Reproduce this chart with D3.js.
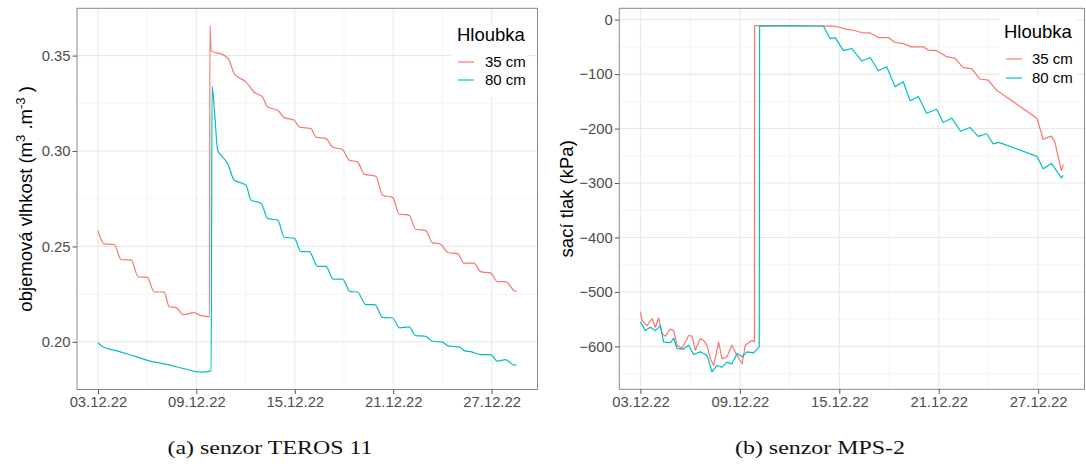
<!DOCTYPE html>
<html>
<head>
<meta charset="utf-8">
<title>Hloubka - TEROS 11 a MPS-2</title>
<script src="https://cdn.jsdelivr.net/npm/d3@7"></script>
<style>
  body { margin: 0; background: #fff; }
  svg text { font-family: "Liberation Sans", Arial, sans-serif; }
</style>
</head>
<body>
<div id="chart"></div>
<script>

// ---- data: days since 03.12.22 00:00 and the readings ----
var teros35Days = [0, 0.38, 0.99, 1.42, 2.03, 2.45, 3.00, 3.43, 4.04, 4.34,
  4.77, 5.19, 5.86, 6.29, 6.80, 6.83, 6.90, 7.71, 8.01, 8.31,
  9.03, 9.53, 10.04, 10.35, 10.96, 11.36, 11.97, 12.27, 12.98, 13.29,
  13.90, 14.30, 14.91, 15.31, 15.82, 16.23, 16.94, 17.35, 17.95, 18.05,
  18.36, 18.97, 19.37, 19.98, 20.39, 20.89, 21.34, 21.95, 22.31, 22.92,
  23.33, 23.94, 24.35, 24.85, 25.36, 25.52];
var teros35 = [0.2583, 0.2513, 0.2510, 0.2430, 0.2428, 0.2341, 0.2338, 0.2262, 0.2260, 0.2184,
  0.2179, 0.2142, 0.2153, 0.2137, 0.2132, 0.3657, 0.3526, 0.3500, 0.3474, 0.3404,
  0.3361, 0.3308, 0.3282, 0.3230, 0.3213, 0.3175, 0.3161, 0.3126, 0.3117, 0.3073,
  0.3065, 0.3021, 0.3008, 0.2952, 0.2943, 0.2879, 0.2868, 0.2769, 0.2757, 0.2743,
  0.2670, 0.2664, 0.2590, 0.2583, 0.2520, 0.2511, 0.2468, 0.2461, 0.2412, 0.2412,
  0.2368, 0.2360, 0.2316, 0.2316, 0.2269, 0.2264];

var teros80Days = [0, 0.20, 1.22, 2.23, 3.24, 4.26, 5.27, 6.29, 6.90, 6.96,
  7.10, 7.30, 7.50, 7.91, 8.31, 8.83, 9.03, 9.33, 9.94, 10.35,
  10.96, 11.36, 11.97, 12.37, 12.88, 13.39, 13.90, 14.34, 14.91, 15.36,
  15.82, 16.33, 16.88, 17.35, 17.95, 18.40, 18.97, 19.37, 19.98, 20.39,
  21.00, 21.40, 22.01, 22.42, 22.72, 23.33, 23.94, 24.35, 24.85, 25.36,
  25.52];
var teros80 = [0.1995, 0.1980, 0.1951, 0.1925, 0.1898, 0.1881, 0.1859, 0.1841, 0.1848, 0.3340,
  0.3213, 0.3004, 0.2978, 0.2934, 0.2847, 0.2830, 0.2821, 0.2743, 0.2726, 0.2647,
  0.2638, 0.2548, 0.2543, 0.2473, 0.2473, 0.2395, 0.2395, 0.2329, 0.2329, 0.2264,
  0.2261, 0.2195, 0.2195, 0.2128, 0.2125, 0.2073, 0.2078, 0.2033, 0.2029, 0.2003,
  0.1998, 0.1977, 0.1974, 0.1951, 0.1949, 0.1933, 0.1933, 0.1899, 0.1907, 0.1878,
  0.1881];

var mps35Days = [0, 0.10, 0.40, 0.70, 0.90, 1.10, 1.31, 1.51, 1.81, 2.01,
  2.21, 2.51, 2.91, 3.11, 3.31, 3.61, 3.81, 4.02, 4.22, 4.42,
  4.72, 4.92, 5.22, 5.52, 5.83, 6.13, 6.33, 6.58, 6.73, 6.88,
  6.89, 8.00, 9.64, 11.63, 11.95, 12.45, 12.85, 13.45, 13.86, 14.36,
  14.96, 15.36, 15.86, 16.37, 17.07, 17.37, 17.87, 18.48, 18.98, 19.48,
  19.98, 20.48, 20.98, 21.49, 21.69, 23.93, 24.30, 24.50, 24.80, 25.00,
  25.40, 25.52];
var mps35 = [-536, -553, -562, -549, -565, -548, -577, -581, -568, -571,
  -598, -604, -580, -581, -607, -586, -589, -598, -623, -635,
  -592, -623, -619, -598, -617, -632, -598, -592, -589, -592,
  -11, -11, -11.5, -12, -13.5, -18, -19.5, -24.5, -24.5, -33,
  -33, -42, -44, -50, -50, -56, -57, -68, -71, -88,
  -90, -109, -111, -130, -134, -181, -220, -217, -214, -224,
  -277, -266];

var mps80Days = [0, 0.30, 0.60, 0.90, 1.20, 1.40, 1.81, 2.01, 2.21, 2.61,
  2.91, 3.21, 3.61, 4.02, 4.32, 4.62, 4.92, 5.22, 5.52, 5.83,
  6.13, 6.43, 6.83, 7.17, 7.19, 9.00, 11.04, 11.45, 11.75, 12.25,
  12.75, 13.36, 13.86, 14.36, 14.86, 15.36, 15.86, 16.27, 16.77, 17.27,
  17.87, 18.27, 18.78, 19.32, 19.88, 20.38, 20.89, 21.28, 21.63, 23.93,
  24.30, 24.80, 25.40, 25.52];
var mps80 = [-555, -571, -565, -571, -562, -592, -593, -585, -604, -605,
  -598, -615, -610, -617, -647, -635, -638, -629, -632, -613,
  -619, -610, -612, -601, -12, -11.5, -11.7, -35, -33, -57,
  -53, -76, -69.5, -94, -86.6, -123, -114, -149, -141, -172,
  -164.5, -189, -181, -205, -198, -214.5, -209.6, -228, -225.5, -251,
  -274, -264, -290.5, -286];

var seriesNames = ["35 cm", "80 cm"];
var seriesColors = ["#F8766D", "#00BFC4"];
var legendTitle = "Hloubka";

var dateTicks = ["2022-12-03", "2022-12-09", "2022-12-15", "2022-12-21", "2022-12-27"];
var dateMinor = ["2022-12-06", "2022-12-12", "2022-12-18", "2022-12-24"];
var terosTicks = [0.20, 0.25, 0.30, 0.35];
var terosMinor = [0.175, 0.225, 0.275, 0.325];
var mpsTicks = [0, -100, -200, -300, -400, -500, -600];
var mpsMinor = [-50, -150, -250, -350, -450, -550, -650];

// ---- setup ----
var W = 1086, H = 466;
var parseDay = d3.timeParse("%Y-%m-%d");
var start = parseDay("2022-12-03");
function toDate(d) { return new Date(start.getTime() + d * 864e5); }
function expand(ext) {
  var p = (ext[1] - ext[0]) * 0.05;
  return [ext[0] - p, ext[1] + p];
}

var svg = d3.select("#chart")
  .append("svg")
  .attr("width", W)
  .attr("height", H);

function drawPanel(p) {
  var g = svg.append("g")
    .attr("transform", "translate(" + p.left + "," + p.top + ")");

  var pts = p.series.map(function(s) {
    return s.days.map(function(d, i) { return { t: toDate(d), v: s.vals[i] }; });
  });
  var all = d3.merge(pts);
  var tExt = expand(d3.extent(all, function(d) { return +d.t; }));
  var vExt = expand(d3.extent(all, function(d) { return d.v; }));

  var x = d3.scaleTime()
    .domain([new Date(tExt[0]), new Date(tExt[1])])
    .range([0, p.width]);
  var y = d3.scaleLinear()
    .domain(vExt)
    .range([p.height, 0]);

  // grid
  var inY = function(v) { return v >= vExt[0] && v <= vExt[1]; };
  g.selectAll(".yminor").data(p.yMinor.filter(inY)).enter().append("line")
    .attr("x1", 0).attr("x2", p.width)
    .attr("y1", function(d) { return y(d); }).attr("y2", function(d) { return y(d); })
    .attr("stroke", "#f3f3f3").attr("stroke-width", 0.9);
  g.selectAll(".xminor").data(dateMinor.map(parseDay)).enter().append("line")
    .attr("y1", 0).attr("y2", p.height)
    .attr("x1", function(d) { return x(d); }).attr("x2", function(d) { return x(d); })
    .attr("stroke", "#f3f3f3").attr("stroke-width", 0.9);
  g.selectAll(".ymajor").data(p.yTicks).enter().append("line")
    .attr("x1", 0).attr("x2", p.width)
    .attr("y1", function(d) { return y(d); }).attr("y2", function(d) { return y(d); })
    .attr("stroke", "#e9e9e9").attr("stroke-width", 1.1);
  g.selectAll(".xmajor").data(dateTicks.map(parseDay)).enter().append("line")
    .attr("y1", 0).attr("y2", p.height)
    .attr("x1", function(d) { return x(d); }).attr("x2", function(d) { return x(d); })
    .attr("stroke", "#e9e9e9").attr("stroke-width", 1.1);

  // lines
  var line = d3.line()
    .curve(p.curve)
    .x(function(d) { return x(d.t); })
    .y(function(d) { return y(d.v); });
  pts.forEach(function(s, i) {
    g.append("path")
      .datum(s)
      .attr("d", line)
      .attr("fill", "none")
      .attr("stroke", seriesColors[i])
      .attr("stroke-width", 1.2)
      .attr("stroke-linejoin", "round");
  });

  // legend
  var lg = svg.append("g");
  lg.append("rect")
    .attr("x", p.legend.x).attr("y", p.legend.y)
    .attr("width", p.legend.w).attr("height", p.legend.h)
    .attr("fill", "#fff");
  lg.append("text")
    .attr("x", p.legend.tx).attr("y", p.legend.ty)
    .attr("font-size", 18.5).attr("fill", "#000")
    .text(legendTitle);
  seriesNames.forEach(function(name, i) {
    var ky = p.legend.ky[i];
    lg.append("line")
      .attr("x1", p.legend.kx).attr("x2", p.legend.kx + 16)
      .attr("y1", ky).attr("y2", ky)
      .attr("stroke", seriesColors[i]).attr("stroke-width", 1.2);
    lg.append("text")
      .attr("x", p.legend.lx).attr("y", ky + 5.4)
      .attr("font-size", 15).attr("fill", "#000")
      .text(name);
  });

  // border
  g.append("rect")
    .attr("width", p.width).attr("height", p.height)
    .attr("fill", "none").attr("stroke", "#8a8a8a").attr("stroke-width", 1);

  // axes
  var xa = g.append("g")
    .attr("transform", "translate(0," + p.height + ")")
    .call(d3.axisBottom(x)
      .tickValues(dateTicks.map(parseDay))
      .tickFormat(d3.timeFormat("%d.%m.%y"))
      .tickSize(4.5).tickPadding(2.2).tickSizeOuter(0));
  var ya = g.append("g")
    .call(d3.axisLeft(y)
      .tickValues(p.yTicks)
      .tickFormat(p.yFormat)
      .tickSize(4.5).tickPadding(2).tickSizeOuter(0));
  [xa, ya].forEach(function(a) {
    a.select(".domain").remove();
    a.selectAll("line").attr("stroke", "#555");
    a.selectAll("text")
      .attr("fill", "#4d4d4d")
      .style("font-size", "14.8px")
      .style("font-family", "'Liberation Sans', Arial, sans-serif");
  });

  // y title
  var yt = svg.append("text")
    .attr("transform", "translate(" + p.titleX + "," + (p.top + p.height / 2) + ") rotate(-90)")
    .attr("text-anchor", "middle")
    .attr("font-size", 18.5)
    .attr("fill", "#000");
  p.yTitle.forEach(function(part) {
    var ts = yt.append("tspan").text(part.t);
    if (part.sup) ts.attr("font-size", 13).attr("dy", -7);
    if (part.back) ts.attr("dy", 7);
  });

  // caption
  svg.append("text")
    .attr("x", p.captionX).attr("y", 454)
    .attr("text-anchor", "middle")
    .attr("font-size", 18.5)
    .attr("textLength", p.captionW)
    .attr("lengthAdjust", "spacingAndGlyphs")
    .style("font-family", "'Liberation Serif', 'DejaVu Serif', serif")
    .attr("fill", "#111")
    .text(p.caption);
}

drawPanel({
  left: 77, top: 8.3, width: 460.5, height: 381.2,
  series: [{ days: teros35Days, vals: teros35 }, { days: teros80Days, vals: teros80 }],
  curve: d3.curveMonotoneX,
  yTicks: terosTicks, yMinor: terosMinor,
  yFormat: d3.format(".2f"),
  yTitle: [{ t: "objemová vlhkost (m" }, { t: "3", sup: true }, { t: " .m", back: true },
           { t: "-3", sup: true }, { t: " )", back: true }],
  titleX: 32,
  legend: { x: 451, y: 25, w: 77, h: 72, tx: 457, ty: 41, kx: 458, lx: 485, ky: [62, 80] },
  caption: "(a) senzor TEROS 11", captionX: 270, captionW: 205
});

drawPanel({
  left: 619.3, top: 8.3, width: 465.2, height: 381,
  series: [{ days: mps35Days, vals: mps35 }, { days: mps80Days, vals: mps80 }],
  curve: d3.curveLinear,
  yTicks: mpsTicks, yMinor: mpsMinor,
  yFormat: d3.format("d"),
  yTitle: [{ t: "sací tlak (kPa)" }],
  titleX: 573,
  legend: { x: 1000, y: 16, w: 77, h: 72, tx: 1004, ty: 37.5, kx: 1006, lx: 1032, ky: [59, 78] },
  caption: "(b) senzor MPS-2", captionX: 820, captionW: 170
});

</script>
</body>
</html>
